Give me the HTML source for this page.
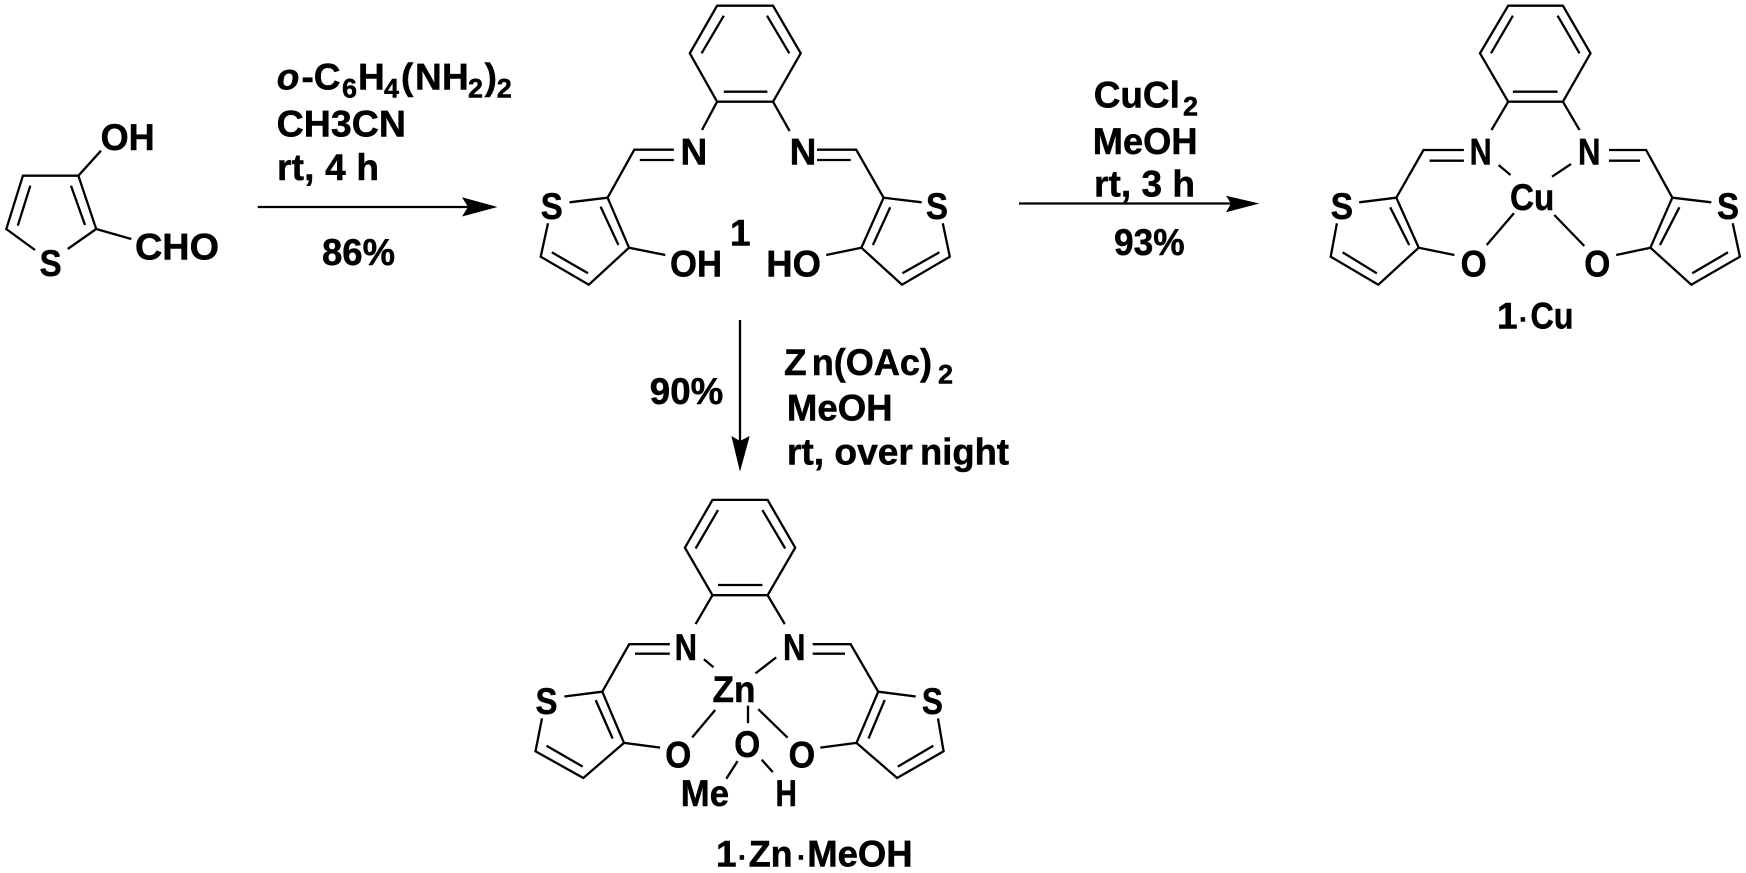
<!DOCTYPE html>
<html><head><meta charset="utf-8"><style>
html,body{margin:0;padding:0;background:#fff;width:1746px;height:873px;overflow:hidden}
svg{display:block}
text{font-family:"Liberation Sans",Arial,sans-serif;font-weight:bold;font-size:37px;fill:#000;stroke:#000;stroke-width:.5px}
.s{font-size:27px}
</style></head><body>
<svg width="1746" height="873" viewBox="0 0 1746 873" xmlns="http://www.w3.org/2000/svg">
<g fill="none" stroke="#000" stroke-width="2.3" stroke-linejoin="miter" stroke-linecap="butt">
<!-- SM -->
<path d="M101 150.7L78.4 175.7H22.9L6.3 229L35 250M67.7 249L96.2 229L78.4 175.7M96.2 229L131.3 239M30.3 185.7L17.8 225.7M71 185.7L85 225"/>
<!-- 1 -->
<path d="M717.1 5.7H773L800.7 53.3L773 101.7H717.1L689.8 53.3ZM723.8 15.7L701.6 53.3M767 15.7L789.3 53.3M723.8 91.7H767.4M717.1 101.7L702 130M773 101.7L789.6 131"/>
<path d="M673.9 149.7H634.3L607.6 197.7L629 247.7L588.8 284.7L540.7 256.7L548 223.3M569.5 202.3L607.6 197.7M639.8 160H673.9M600.6 206.7L618.4 245M551.8 252.3L588 273.3M629 247.7L665.3 255"/>
<path d="M817 149.7H856.2L883.6 197.7L861.4 247.7L902 284.7L949.8 256.7L942.8 223.3M921.7 202.3L883.6 197.7M817 160H850.7M890.2 207.3L872.9 245M939.4 252.3L902.4 273.3M861.4 247.7L826.2 255"/>
<!-- 1 Cu -->
<path d="M1508.2 5.7H1562.9L1590.5 53.3L1562.9 101.7H1508.2L1480 53.3ZM1512.9 15.7L1491 53.3M1557.6 15.7L1579.5 53.3M1512.9 91.7H1557.6M1508.2 101.7L1491.5 130M1562.9 101.7L1579.5 130"/>
<path d="M1463.9 150H1423.5L1396.3 197.7L1418.7 247.7L1378.3 284.7L1330.7 256.7L1336.9 223.3M1359.2 202.3L1396.3 197.7M1429.6 160.7H1463.9M1390.2 207.3L1409.2 245M1342.6 252.3L1376.8 273.3M1418.7 247.7L1454.4 255"/>
<path d="M1609 150H1646.1L1672.3 197.7L1650.4 247.7L1691.3 284.7L1739.9 256.7L1732.7 223.3M1711.3 202.3L1672.3 197.7M1609 160.7H1640M1679.4 207.3L1660 245M1728 252.3L1692.3 273.3M1650.4 247.7L1616.2 255"/>
<path d="M1498.6 165L1510.5 175M1571 164L1552 176.7M1513.9 213.3L1486.7 245M1554.3 215L1584.3 246"/>
<!-- 1 Zn -->
<path d="M712.5 499.9H767.6L795.2 547.7L767.6 595.2H712.5L684.9 547.7ZM718 510.1L695.6 548.5M762.4 510.1L785.2 548.5M718 585H762.4M712.5 595.2L695.6 624.1M767.6 595.2L784.8 624.1"/>
<path d="M669.8 644.2H629.2L602.3 691.7L624 742.9L583.3 778L535.5 751.3L542 718.4M564.4 696.5L602.3 691.7M635 653.7H669.8M595.7 700.1L612.6 738.5M546.5 745.8L582.7 766.6M624 742.9L660.1 747.6"/>
<path d="M812.7 644.2H850.6L878.2 691.7L856.5 742.9L897.1 778L943.6 751.3L938 718.4M915.7 696.5L878.2 691.7M812.7 653.7H845M884.7 700.1L868.5 738.5M933.3 745.8L897.8 766.6M856.5 742.9L820.3 747.6"/>
<path d="M703.9 659.2L713.5 667.2M776.2 657.4L755.5 673.4M715.2 710L692.2 737.4M748 705.6V723.1M758.3 709.2L787.6 737.7M737.6 761.1L726.3 778.7M761.7 759.7L772.8 772.1"/>
<!-- arrows -->
<path d="M257.8 207H468M1019 203.5H1231M740 320V441"/>
</g>
<polygon points="497.5,207 462,197.3 468,207 462,216.5"/>
<polygon points="1259.3,203.5 1226,195.7 1231,203.5 1226,212.3"/>
<polygon points="740,471.7 731.4,436 740,441 749.7,436"/>

<!-- SM labels -->
<text x="100.6" y="150" textLength="54" lengthAdjust="spacingAndGlyphs">OH</text>
<text x="135" y="259.3" textLength="84" lengthAdjust="spacingAndGlyphs">CHO</text>
<text x="39.6" y="276" textLength="22" lengthAdjust="spacingAndGlyphs">S</text>
<!-- reagents 1 -->
<text x="276.7" y="89.3" font-style="italic">o</text>
<text x="301.5" y="89.3">-</text><text x="313.7" y="89.3">C</text><text x="342" y="97.7" class="s">6</text>
<text x="358" y="89.3">H</text><text x="384" y="97.7" class="s">4</text>
<text x="401" y="89.3">(</text><text x="415" y="89.3">N</text><text x="442" y="89.3">H</text>
<text x="468" y="97.7" class="s">2</text><text x="484.6" y="89.3">)</text><text x="496.8" y="97.7" class="s">2</text>
<text x="276.7" y="136.7" textLength="129.3" lengthAdjust="spacingAndGlyphs">CH3CN</text>
<text x="277" y="180" textLength="102" lengthAdjust="spacing">rt, 4 h</text>
<text x="322" y="265" textLength="73" lengthAdjust="spacingAndGlyphs">86%</text>
<!-- 1 labels -->
<text x="680.5" y="164.3">N</text><text x="789.6" y="164.3">N</text>
<text x="540.7" y="219" textLength="22" lengthAdjust="spacingAndGlyphs">S</text>
<text x="926" y="219" textLength="22" lengthAdjust="spacingAndGlyphs">S</text>
<text x="670" y="276.7" textLength="52" lengthAdjust="spacingAndGlyphs">OH</text>
<text x="766.3" y="276.7" textLength="54.7" lengthAdjust="spacingAndGlyphs">HO</text>
<text x="730" y="245.7">1</text>
<!-- Cu reagents -->
<text x="1093.7" y="107.3" textLength="86.2" lengthAdjust="spacingAndGlyphs">CuCl</text><text x="1183" y="115.7" class="s">2</text>
<text x="1092.8" y="154" textLength="104.7" lengthAdjust="spacingAndGlyphs">MeOH</text>
<text x="1094" y="196.7" textLength="101" lengthAdjust="spacing">rt, 3 h</text>
<text x="1114" y="255" textLength="70.6" lengthAdjust="spacingAndGlyphs">93%</text>
<!-- Cu labels -->
<text x="1469.6" y="164.3" textLength="22" lengthAdjust="spacingAndGlyphs">N</text>
<text x="1578" y="164.3" textLength="22.5" lengthAdjust="spacingAndGlyphs">N</text>
<text x="1510" y="210" textLength="44.3" lengthAdjust="spacingAndGlyphs">Cu</text>
<text x="1330.7" y="219" textLength="22.3" lengthAdjust="spacingAndGlyphs">S</text>
<text x="1717" y="219" textLength="22" lengthAdjust="spacingAndGlyphs">S</text>
<text x="1460.6" y="276.7" textLength="26" lengthAdjust="spacingAndGlyphs">O</text>
<text x="1584.3" y="276.7" textLength="26" lengthAdjust="spacingAndGlyphs">O</text>
<text x="1497" y="328.3">1</text><text x="1519" y="328.3" style="font-size:28px">·</text>
<text x="1530.5" y="328.3" textLength="43" lengthAdjust="spacingAndGlyphs">Cu</text>
<!-- Zn reagents -->
<text x="784" y="374.9">Z</text><text x="811.7" y="374.9" textLength="120.3" lengthAdjust="spacingAndGlyphs">n(OAc)</text><text x="938" y="383.3" class="s">2</text>
<text x="786.9" y="420.6" textLength="105.7" lengthAdjust="spacingAndGlyphs">MeOH</text>
<text x="786.9" y="464.4" textLength="126" lengthAdjust="spacingAndGlyphs">rt, over</text><text x="920" y="464.4" textLength="89" lengthAdjust="spacingAndGlyphs">night</text>
<text x="649.8" y="404" textLength="73.4" lengthAdjust="spacingAndGlyphs">90%</text>
<!-- Zn labels -->
<text x="674.6" y="659.9" textLength="22.4" lengthAdjust="spacingAndGlyphs">N</text>
<text x="783" y="659.9" textLength="22.5" lengthAdjust="spacingAndGlyphs">N</text>
<text x="712.5" y="702" textLength="43" lengthAdjust="spacingAndGlyphs">Zn</text>
<text x="535.5" y="714" textLength="22" lengthAdjust="spacingAndGlyphs">S</text>
<text x="921.9" y="714" textLength="21" lengthAdjust="spacingAndGlyphs">S</text>
<text x="734.2" y="756.8" textLength="26" lengthAdjust="spacingAndGlyphs">O</text>
<text x="665.3" y="767.7" textLength="26" lengthAdjust="spacingAndGlyphs">O</text>
<text x="788.6" y="767.7" textLength="26.5" lengthAdjust="spacingAndGlyphs">O</text>
<text x="680.8" y="806" textLength="48.2" lengthAdjust="spacingAndGlyphs">Me</text>
<text x="775.5" y="806" textLength="21.4" lengthAdjust="spacingAndGlyphs">H</text>
<text x="716" y="866.4">1</text><text x="738" y="866.4" style="font-size:28px">·</text>
<text x="748.7" y="866.4" textLength="44" lengthAdjust="spacingAndGlyphs">Zn</text>
<text x="797" y="866.4" style="font-size:28px">·</text>
<text x="807.2" y="866.4" textLength="105.4" lengthAdjust="spacingAndGlyphs">MeOH</text>
</svg>
</body></html>
